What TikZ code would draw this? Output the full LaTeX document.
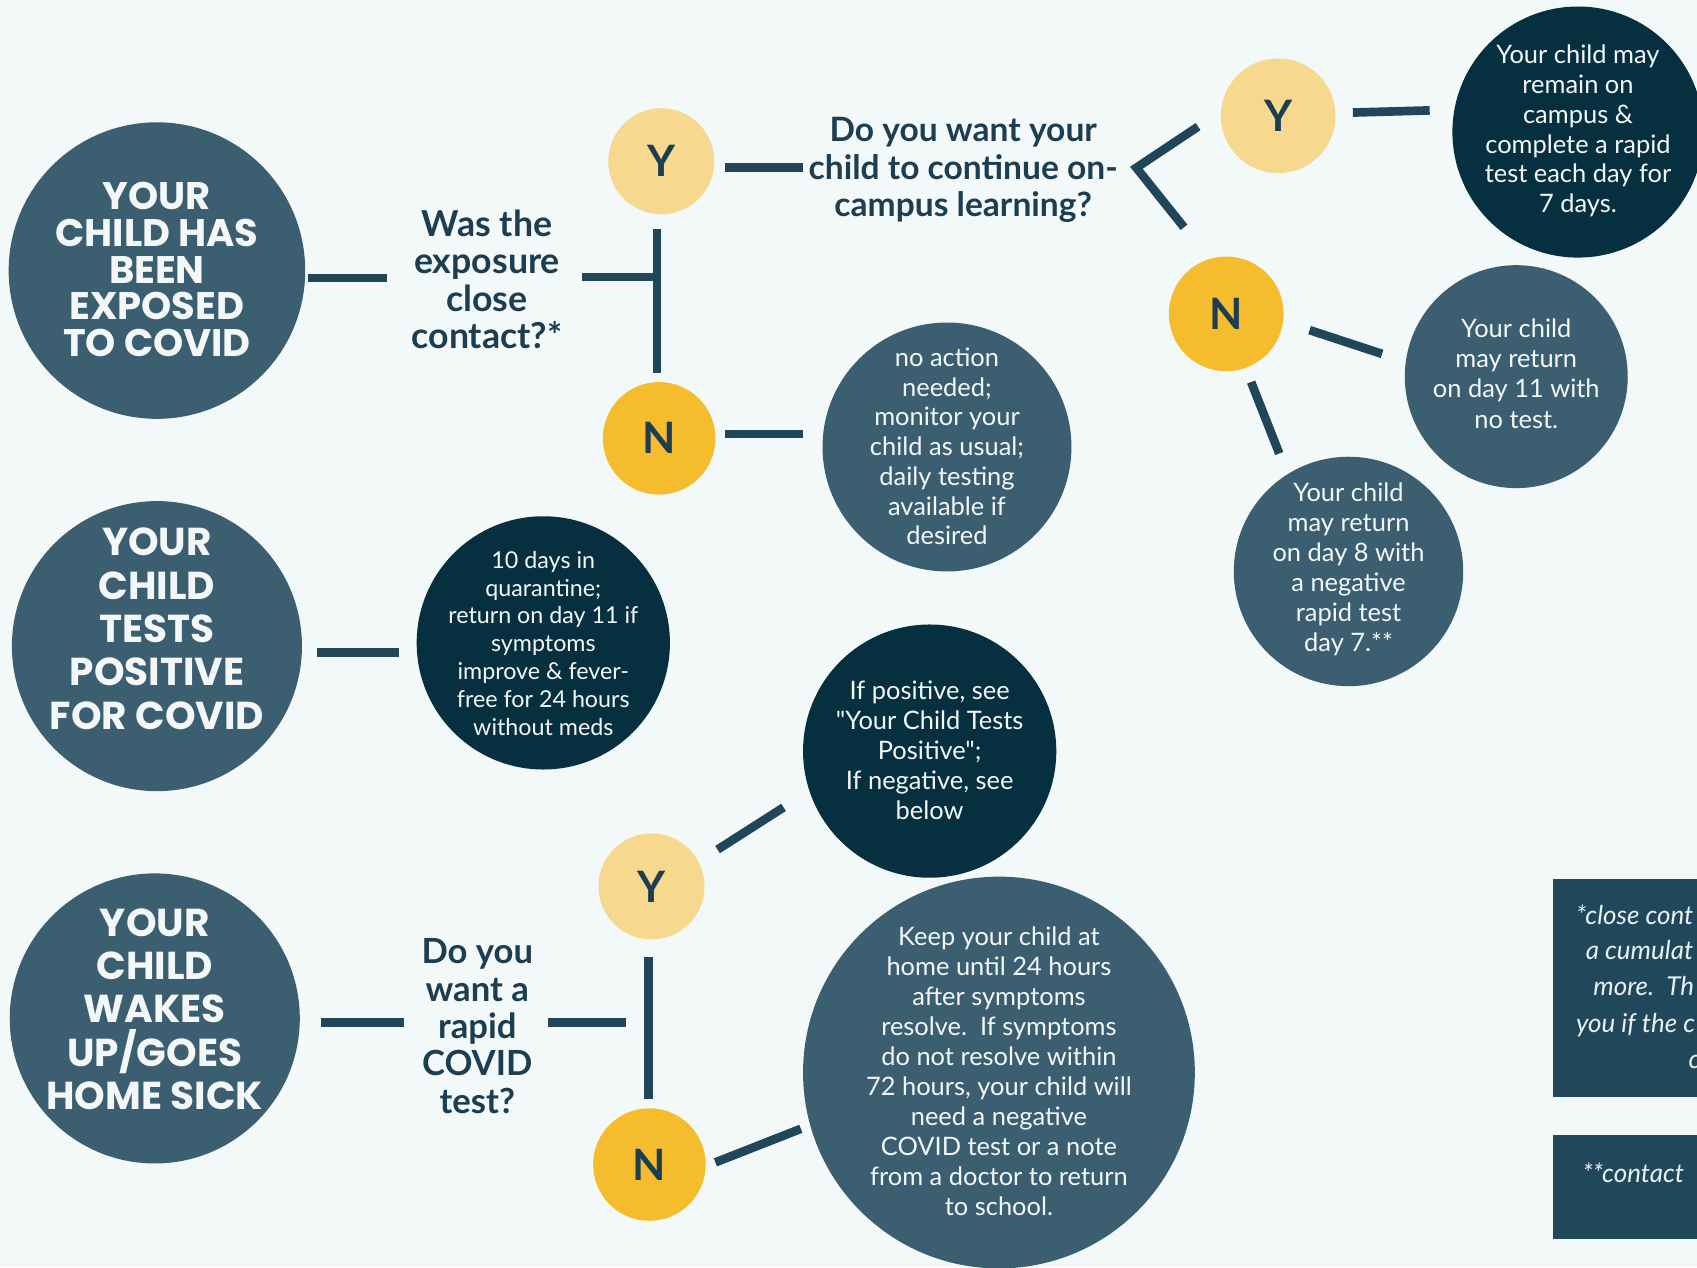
\documentclass[tikz,border=0pt]{standalone}
\usepackage{fontspec}
\setmainfont{Lato}[Ligatures=TeXOff]
\newfontfamily\headfont{Poppins}
\definecolor{bgc}{HTML}{F3F8F9}
\definecolor{slate}{HTML}{3B5E70}
\definecolor{darkc}{HTML}{06303F}
\definecolor{linec}{HTML}{21465A}
\definecolor{ylight}{HTML}{F7D88F}
\definecolor{yellowc}{HTML}{F5BC2E}
\definecolor{qtext}{HTML}{1C3E50}
\definecolor{ftbox}{HTML}{21485A}
\definecolor{fttext}{HTML}{E9F1F3}
\definecolor{wtext}{HTML}{F3F7F8}
\newcommand\fsz[2]{\fontsize{#1}{#2}\selectfont}
\begin{document}
\begin{tikzpicture}[x=1pt,y=-1pt,
  disc/.style={circle,inner sep=0pt,minimum size=#1},
  slatec/.style={disc=#1,fill=slate},
  darkdisc/.style={disc=#1,fill=darkc},
  ynlight/.style={disc=#1,fill=ylight,text=qtext,font=\bfseries\fsz{40}{40}},
  ynyellow/.style={disc=#1,fill=yellowc,text=qtext,font=\bfseries\fsz{40}{40}},
  conn/.style={draw=linec,line width=8pt},
  headtxt/.style={text=wtext,align=center,inner sep=0pt},
  bodytxt/.style={text=wtext,align=center,inner sep=0pt},
  qtxt/.style={text=qtext,align=center,inner sep=0pt},
  fttxt/.style={text=fttext,inner sep=0pt,anchor=base west,font=\itshape\fsz{24}{24}}
]
\useasboundingbox (0,0) rectangle (1568,1171);
\clip (0,0) rectangle (1568,1171);
\fill[bgc] (0,0) rectangle (1568,1171);

% ---- row 1: exposed
\node[slatec=274] (A) at (145,250) {};
\node[headtxt,font=\headfont\bfseries\fsz{35.5}{33.75}] (Atxt) at (145,249) {YOUR\\CHILD HAS\\BEEN\\EXPOSED\\TO COVID};
\node[qtxt,font=\bfseries\fsz{33}{34.7}] (Q1) at (450,258) {Was the\\exposure\\close\\contact?*};
\node[ynlight=98] (Y1) at (611,149) {Y};
\node[ynyellow=104] (N1) at (609,405) {N};
\node[qtxt,font=\bfseries\fsz{31}{35}] (Q2) at (890,157) {Do you want your\\child to continue on-\\campus learning?};
\node[ynlight=106] (Y2) at (1181,107) {Y};
\node[ynyellow=106] (N2) at (1133,290) {N};
\node[darkdisc=232] (R1) at (1458,122) {};
\node[bodytxt,font=\fsz{23.5}{27.6}] (R1t) at (1458,121) {Your child may\\remain on\\campus \&\\complete a rapid\\test each day for\\7 days.};
\node[slatec=206] (R2) at (1401,348) {};
\node[bodytxt,font=\fsz{23.5}{28}] (R2t) at (1401,345) {Your child\\may return\\on day 11 with\\no test.};
\node[slatec=212] (R3) at (1246,528) {};
\node[bodytxt,font=\fsz{23.5}{27.6}] (R3t) at (1246,526) {Your child\\may return\\on day 8 with\\a negative\\rapid test\\day 7.**};
\node[slatec=230] (R4) at (875,413) {};
\node[bodytxt,font=\fsz{23.5}{27.5}] (R4t) at (875,412.5) {no action\\needed;\\monitor your\\child as usual;\\daily testing\\available if\\desired};

% ---- row 2: positive
\node[slatec=268] (B) at (145,597) {};
\node[headtxt,font=\headfont\bfseries\fsz{36}{40}] (Btxt) at (145,581) {YOUR\\CHILD\\TESTS\\POSITIVE\\FOR COVID};
\node[darkdisc=234] (P) at (502,594) {};
\node[bodytxt,font=\fsz{21.5}{25.8}] (Pt) at (502,594.5) {10 days in\\quarantine;\\return on day 11 if\\symptoms\\improve \& fever-\\free for 24 hours\\without meds};

% ---- row 3: sick
\node[darkdisc=234] (D) at (859,694) {};
\node[bodytxt,font=\fsz{23.5}{27.7}] (Dt) at (859,693) {If positive, see\\"Your Child Tests\\Positive";\\If negative, see\\below};
\node[ynlight=98] (Y3) at (602,819) {Y};
\node[ynyellow=104] (N3) at (600,1076) {N};
\node[slatec=362] (E) at (923,991) {};
\node[bodytxt,font=\fsz{23.5}{27.7}] (Et) at (923,989.5) {Keep your child at\\home until 24 hours\\after symptoms\\resolve.\ \ If symptoms\\do not resolve within\\72 hours, your child will\\need a negative\\COVID test or a note\\from a doctor to return\\to school.};
\node[slatec=268] (C) at (143,941) {};
\node[headtxt,font=\headfont\bfseries\fsz{36}{40}] (Ctxt) at (143,932.5) {YOUR\\CHILD\\WAKES\\UP/GOES\\HOME SICK};
\node[qtxt,font=\bfseries\fsz{32}{34.5}] (Q3) at (441,948) {Do you\\want a\\rapid\\COVID\\test?};

% ---- connectors (named end points)
\coordinate (a1) at (285,257); \coordinate (a2) at (358,257);
\coordinate (b1) at (538,256); \coordinate (b2) at (611,256);
\coordinate (v1) at (607,212); \coordinate (v2) at (607,345);
\coordinate (c1) at (670,155); \coordinate (c2) at (742,155);
\coordinate (k1) at (1107,117); \coordinate (k2) at (1050,155); \coordinate (k3) at (1094,210);
\coordinate (d1) at (1250,104); \coordinate (d2) at (1321,102);
\coordinate (e1) at (1210,305); \coordinate (e2) at (1277,327);
\coordinate (f1) at (1156,353); \coordinate (f2) at (1182,419);
\coordinate (g1) at (670,401); \coordinate (g2) at (742,401);
\coordinate (h1) at (293,603); \coordinate (h2) at (369,603);
\coordinate (i1) at (663,785); \coordinate (i2) at (724,746);
\coordinate (j1) at (599,884); \coordinate (j2) at (599,1015);
\coordinate (l1) at (661,1074); \coordinate (l2) at (740,1043);
\coordinate (m1) at (297,945); \coordinate (m2) at (373,945);
\coordinate (n1) at (506,945); \coordinate (n2) at (578,945);
\draw[conn] (a1) -- (a2);
\draw[conn] (b1) -- (b2);
\draw[conn] (v1) -- (v2);
\draw[conn] (c1) -- (c2);
\draw[conn,line join=miter] (k1) -- (k2) -- (k3);
\draw[conn] (d1) -- (d2);
\draw[conn] (e1) -- (e2);
\draw[conn] (f1) -- (f2);
\draw[conn] (g1) -- (g2);
\draw[conn] (h1) -- (h2);
\draw[conn] (i1) -- (i2);
\draw[conn] (j1) -- (j2);
\draw[conn] (l1) -- (l2);
\draw[conn] (m1) -- (m2);
\draw[conn] (n1) -- (n2);

% ---- footnote boxes (cut by the page edge)
\fill[ftbox] (1435,812) rectangle (1580,1014);
\node[fttxt] (f1a) at (1456,854) {*close cont};
\node[fttxt] (f1b) at (1465,887) {a cumulat};
\node[fttxt] (f1c) at (1472,920) {more.\ \ Th};
\node[fttxt] (f1d) at (1456,954) {you if the c};
\node[fttxt] (f1e) at (1560,987) {c};
\fill[ftbox] (1435,1049) rectangle (1580,1145);
\node[fttxt] (f2a) at (1462,1093) {**contact};
\end{tikzpicture}
\end{document}
